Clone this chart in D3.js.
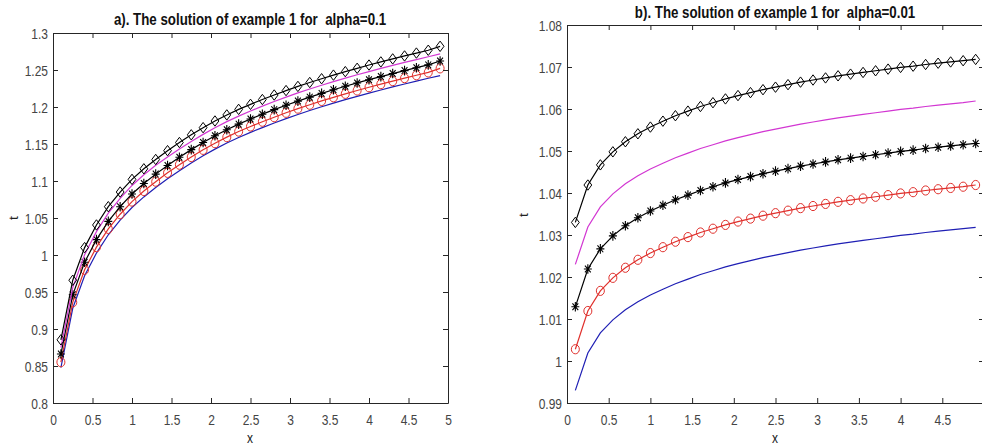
<!DOCTYPE html>
<html>
<head>
<meta charset="utf-8">
<script src="https://cdn.jsdelivr.net/npm/d3@7/dist/d3.min.js"></script>
<style>
  body { margin: 0; background: #fff; }
  svg { display: block; font-family: "Liberation Sans", Arial, sans-serif; }
  .title { white-space: pre; }
</style>
</head>
<body>
<svg id="chart" width="982" height="445"></svg>
<script>
// x grid shared by every curve (33 points)
var xs = [0.1, 0.25, 0.4, 0.55, 0.7, 0.85, 1.0, 1.15, 1.3, 1.45, 1.6, 1.75, 1.9, 2.05, 2.2, 2.35,
          2.5, 2.65, 2.8, 2.95, 3.1, 3.25, 3.4, 3.55, 3.7, 3.85, 4.0, 4.15, 4.3, 4.45, 4.6, 4.75, 4.9];

var xTicks = [0, 0.5, 1, 1.5, 2, 2.5, 3, 3.5, 4, 4.5, 5];
var yTicksA = [0.8, 0.85, 0.9, 0.95, 1, 1.05, 1.1, 1.15, 1.2, 1.25, 1.3];
var yTicksB = [0.99, 1, 1.01, 1.02, 1.03, 1.04, 1.05, 1.06, 1.07, 1.08];

// panel a), alpha = 0.1
var a_diamond = [0.8854, 0.9659, 1.0100, 1.0406, 1.0653, 1.0851, 1.1022, 1.1165, 1.1291, 1.1410, 1.1520,
                 1.1624, 1.1721, 1.1811, 1.1893, 1.1968, 1.2036, 1.2101, 1.2162, 1.2222, 1.2278, 1.2331,
                 1.2382, 1.2431, 1.2478, 1.2523, 1.2567, 1.2609, 1.2650, 1.2690, 1.2729, 1.2767, 1.2820];
var a_magenta = [0.8750, 0.9560, 1.0005, 1.0316, 1.0566, 1.0766, 1.0940, 1.1085, 1.1212, 1.1325, 1.1432,
                 1.1535, 1.1630, 1.1720, 1.1802, 1.1877, 1.1946, 1.2012, 1.2074, 1.2134, 1.2190, 1.2243,
                 1.2294, 1.2343, 1.2390, 1.2436, 1.2479, 1.2521, 1.2562, 1.2602, 1.2641, 1.2679, 1.2718];
var a_star    = [0.8662, 0.9462, 0.9902, 1.0208, 1.0455, 1.0653, 1.0824, 1.0967, 1.1093, 1.1210, 1.1320,
                 1.1424, 1.1521, 1.1611, 1.1693, 1.1768, 1.1838, 1.1903, 1.1964, 1.2024, 1.2080, 1.2133,
                 1.2184, 1.2233, 1.2280, 1.2325, 1.2369, 1.2411, 1.2452, 1.2492, 1.2531, 1.2569, 1.2622];
var a_circle  = [0.8552, 0.9360, 0.9800, 1.0106, 1.0353, 1.0551, 1.0722, 1.0865, 1.0991, 1.1110, 1.1220,
                 1.1324, 1.1421, 1.1511, 1.1593, 1.1668, 1.1737, 1.1801, 1.1862, 1.1922, 1.1978, 1.2031,
                 1.2082, 1.2131, 1.2178, 1.2223, 1.2267, 1.2309, 1.2350, 1.2390, 1.2429, 1.2467, 1.2522];
var a_blue    = [0.8478, 0.9280, 0.9720, 1.0026, 1.0273, 1.0471, 1.0642, 1.0785, 1.0911, 1.1030, 1.1140,
                 1.1244, 1.1341, 1.1431, 1.1513, 1.1588, 1.1657, 1.1722, 1.1783, 1.1843, 1.1899, 1.1952,
                 1.2003, 1.2052, 1.2099, 1.2144, 1.2188, 1.2230, 1.2271, 1.2311, 1.2350, 1.2388, 1.2424];

// panel b), alpha = 0.01
var b_diamond = [1.0330, 1.0419, 1.0467, 1.0498, 1.0522, 1.0541, 1.0557, 1.0571, 1.0584, 1.0595, 1.0606,
                 1.0615, 1.0624, 1.0632, 1.0639, 1.0646, 1.0652, 1.0658, 1.0664, 1.0669, 1.0674, 1.0679,
                 1.0683, 1.0687, 1.0691, 1.0695, 1.0699, 1.0702, 1.0706, 1.0709, 1.0712, 1.0715, 1.0718];
var b_magenta = [1.0230, 1.0319, 1.0367, 1.0398, 1.0422, 1.0441, 1.0457, 1.0471, 1.0484, 1.0495, 1.0506,
                 1.0515, 1.0524, 1.0532, 1.0539, 1.0546, 1.0552, 1.0558, 1.0564, 1.0569, 1.0574, 1.0579,
                 1.0583, 1.0587, 1.0591, 1.0595, 1.0599, 1.0602, 1.0606, 1.0609, 1.0612, 1.0615, 1.0619];
var b_star    = [1.0129, 1.0219, 1.0267, 1.0298, 1.0322, 1.0341, 1.0357, 1.0371, 1.0384, 1.0395, 1.0406,
                 1.0415, 1.0424, 1.0432, 1.0439, 1.0446, 1.0452, 1.0458, 1.0464, 1.0469, 1.0474, 1.0479,
                 1.0483, 1.0487, 1.0491, 1.0495, 1.0499, 1.0502, 1.0506, 1.0509, 1.0512, 1.0515, 1.0518];
var b_circle  = [1.0028, 1.0119, 1.0167, 1.0198, 1.0222, 1.0241, 1.0257, 1.0271, 1.0284, 1.0295, 1.0306,
                 1.0315, 1.0324, 1.0332, 1.0339, 1.0346, 1.0352, 1.0358, 1.0364, 1.0369, 1.0374, 1.0379,
                 1.0383, 1.0387, 1.0391, 1.0395, 1.0399, 1.0402, 1.0406, 1.0409, 1.0412, 1.0415, 1.0419];
var b_blue    = [0.9930, 1.0019, 1.0067, 1.0098, 1.0122, 1.0141, 1.0157, 1.0171, 1.0184, 1.0195, 1.0206,
                 1.0215, 1.0224, 1.0232, 1.0239, 1.0246, 1.0252, 1.0258, 1.0264, 1.0269, 1.0274, 1.0279,
                 1.0283, 1.0287, 1.0291, 1.0295, 1.0299, 1.0302, 1.0306, 1.0309, 1.0312, 1.0315, 1.0318];

var svg = d3.select("#chart");
var axisColor = "#262626";
var labelColor = "#444";
var stretch = 1.18;   // the source picture is a little taller than wide

var draw_panel = function(p) {
    var x = d3.scaleLinear().domain([0, 5]).range([p.left, p.right]);
    var y = d3.scaleLinear().domain(p.yDomain).range([p.bottom, p.top]);
    var g = svg.append("g");

    // curves
    var line = d3.line()
        .x(function(d) { return x(d[0]); })
        .y(function(d) { return y(d[1]); });

    p.series.forEach(function(s) {
        var pts = xs.map(function(v, i) { return [v, s.values[i]]; });
        g.append("path")
            .datum(pts)
            .attr("d", line)
            .attr("fill", "none")
            .attr("stroke", s.color)
            .attr("stroke-width", 1.2);

        if (!s.marker) return;
        var m = g.selectAll(null)
            .data(pts)
            .enter()
            .append("g")
            .attr("transform", function(d) { return "translate(" + x(d[0]) + "," + y(d[1]) + ")"; });

        if (s.marker === "diamond") {
            m.append("path")
                .attr("d", "M0,-5.2L3.9,0L0,5.2L-3.9,0Z")
                .attr("fill", "none")
                .attr("stroke", s.color)
                .attr("stroke-width", 1);
        } else if (s.marker === "circle") {
            m.append("ellipse")
                .attr("rx", 4)
                .attr("ry", 4.6)
                .attr("fill", "none")
                .attr("stroke", s.color)
                .attr("stroke-width", 1);
        } else if (s.marker === "star") {
            m.append("path")
                .attr("d", "M-4,0H4M0,-4.8V4.8M-2.9,-3.4L2.9,3.4M-2.9,3.4L2.9,-3.4")
                .attr("fill", "none")
                .attr("stroke", s.color)
                .attr("stroke-width", 1.1);
        }
    });

    // box with inward ticks on all four sides
    var fmt = function(d) { return String(d); };
    // the right panel runs off the page, so its last x label is not shown
    var xfmt = function(d) { return (p.cutRight && d === 5) ? "" : String(d); };
    var bottom = g.append("g").attr("transform", "translate(0," + p.bottom + ")")
        .call(d3.axisBottom(x).tickValues(xTicks).tickFormat(xfmt).tickSizeInner(-5).tickSizeOuter(0));
    var top = g.append("g").attr("transform", "translate(0," + p.top + ")")
        .call(d3.axisTop(x).tickValues(xTicks).tickFormat("").tickSizeInner(-5).tickSizeOuter(0));
    var left = g.append("g").attr("transform", "translate(" + p.left + ",0)")
        .call(d3.axisLeft(y).tickValues(p.yTicks).tickFormat(fmt).tickSizeInner(-5).tickSizeOuter(0));
    var right = g.append("g").attr("transform", "translate(" + p.right + ",0)")
        .call(d3.axisRight(y).tickValues(p.yTicks).tickFormat("").tickSizeInner(-5).tickSizeOuter(0));

    [bottom, top, left, right].forEach(function(a) {
        a.select(".domain").attr("stroke", axisColor).attr("stroke-width", 1);
        a.selectAll(".tick line").attr("stroke", axisColor);
        a.attr("font-family", null).attr("font-size", null);
    });

    bottom.selectAll(".tick text")
        .attr("y", null).attr("dy", null)
        .attr("transform", "translate(0,22) scale(1," + stretch + ")")
        .attr("fill", labelColor)
        .style("font-size", "12px");
    left.selectAll(".tick text")
        .attr("x", null).attr("dy", null)
        .attr("transform", "translate(-5,5) scale(1," + stretch + ")")
        .attr("fill", labelColor)
        .style("font-size", "12px");

    // title and axis names
    g.append("text")
        .attr("class", "title")
        .attr("transform", "translate(" + p.titleX + "," + p.titleY + ") scale(1,1.22)")
        .attr("text-anchor", "middle")
        .attr("font-weight", "bold")
        .attr("fill", "#111")
        .style("font-size", "13.3px")
        .text(p.title);

    g.append("text")
        .attr("transform", "translate(" + p.titleX + ",443) scale(1," + stretch + ")")
        .attr("text-anchor", "middle")
        .attr("fill", "#222")
        .style("font-size", "12px")
        .text("x");

    g.append("text")
        .attr("transform", "translate(" + p.yLabelX + "," + p.yLabelY + ") rotate(-90) scale(" + stretch + ",1)")
        .attr("text-anchor", "middle")
        .attr("fill", "#222")
        .style("font-size", "12px")
        .text("t");
};

draw_panel({
    left: 53, right: 448, top: 33, bottom: 403,
    yDomain: [0.8, 1.3], yTicks: yTicksA,
    title: "a). The solution of example 1 for  alpha=0.1",
    titleX: 250, titleY: 25, yLabelX: 18, yLabelY: 218,
    series: [
        { values: a_blue, color: "#1f1fb4" },
        { values: a_circle, color: "#e0302c", marker: "circle" },
        { values: a_star, color: "#000", marker: "star" },
        { values: a_magenta, color: "#d236d2" },
        { values: a_diamond, color: "#000", marker: "diamond" }
    ]
});

draw_panel({
    left: 567, right: 984, top: 25, bottom: 403, cutRight: true,
    yDomain: [0.99, 1.08], yTicks: yTicksB,
    title: "b). The solution of example 1 for  alpha=0.01",
    titleX: 775, titleY: 18, yLabelX: 528, yLabelY: 215,
    series: [
        { values: b_blue, color: "#1f1fb4" },
        { values: b_circle, color: "#e0302c", marker: "circle" },
        { values: b_star, color: "#000", marker: "star" },
        { values: b_magenta, color: "#d236d2" },
        { values: b_diamond, color: "#000", marker: "diamond" }
    ]
});
</script>
</body>
</html>
